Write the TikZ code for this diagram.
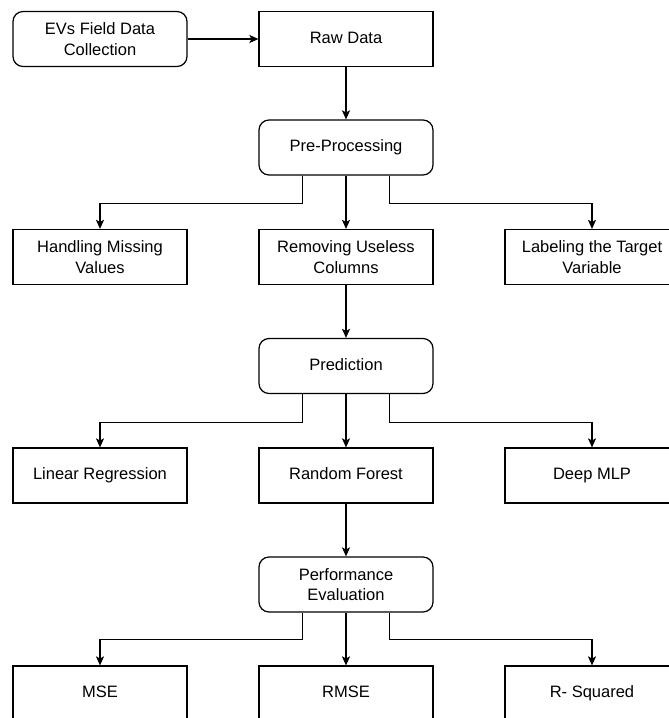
\documentclass[tikz,border=0pt]{standalone}
\usepackage{fontspec}
\setmainfont{Liberation Sans}
\usetikzlibrary{arrows.meta}
\begin{document}
\begin{tikzpicture}[x=1pt,y=-1pt,
  box/.style={draw, line width=1.2pt, minimum width=174pt, minimum height=55pt, align=center, font=\fontsize{16.5}{20.5}\selectfont, inner sep=0pt},
  rbox/.style={box, rounded corners=10pt},
  one/.style={text height=12pt, text depth=3.5pt},
  arr/.style={line width=1.2pt, -{Stealth[length=9pt,width=8pt,inset=2pt]}}]
\useasboundingbox (0,0) rectangle (669,718);
\clip (0,0) rectangle (669,718);
\fill[white] (0,0) rectangle (669,718);
% row 0
\node[rbox] (ev) at (100,39) {EVs Field Data\\Collection};
\node[box,one]  (raw) at (346,39) {Raw Data};
\node[rbox,one] (pre) at (346,147.5) {Pre-Processing};
% row 2
\node[box] (hmv) at (100,257) {Handling Missing\\Values};
\node[box] (ruc) at (346,257) {Removing Useless\\Columns};
\node[box] (ltv) at (592,257) {Labeling the Target\\Variable};
\node[rbox,one] (pred) at (346,366) {Prediction};
% row 4
\node[box,one] (lr) at (100,475.5) {Linear Regression};
\node[box,one] (rf) at (346,475.5) {Random Forest};
\node[box,one] (mlp) at (592,475.5) {Deep MLP};
\node[rbox] (perf) at (346,584.5) {Performance\\Evaluation};
% row 6
\node[box,one] (mse) at (100,693.5) {MSE};
\node[box,one] (rmse) at (346,693.5) {RMSE};
\node[box,one] (r2) at (592,693.5) {R- Squared};
% connectors
\draw[arr] (ev) -- (raw);
\draw[arr] (raw) -- (pre);
\draw[arr] ([xshift=-43.5pt]pre.south) -- ++(0,28) -| (hmv.north);
\draw[arr] (pre) -- (ruc);
\draw[arr] ([xshift=43.5pt]pre.south) -- ++(0,28) -| (ltv.north);
\draw[arr] (ruc) -- (pred);
\draw[arr] ([xshift=-43.5pt]pred.south) -- ++(0,28) -| (lr.north);
\draw[arr] (pred) -- (rf);
\draw[arr] ([xshift=43.5pt]pred.south) -- ++(0,28) -| (mlp.north);
\draw[arr] (rf) -- (perf);
\draw[arr] ([xshift=-43.5pt]perf.south) -- ++(0,27) -| (mse.north);
\draw[arr] (perf) -- (rmse);
\draw[arr] ([xshift=43.5pt]perf.south) -- ++(0,27) -| (r2.north);
\end{tikzpicture}
\end{document}
